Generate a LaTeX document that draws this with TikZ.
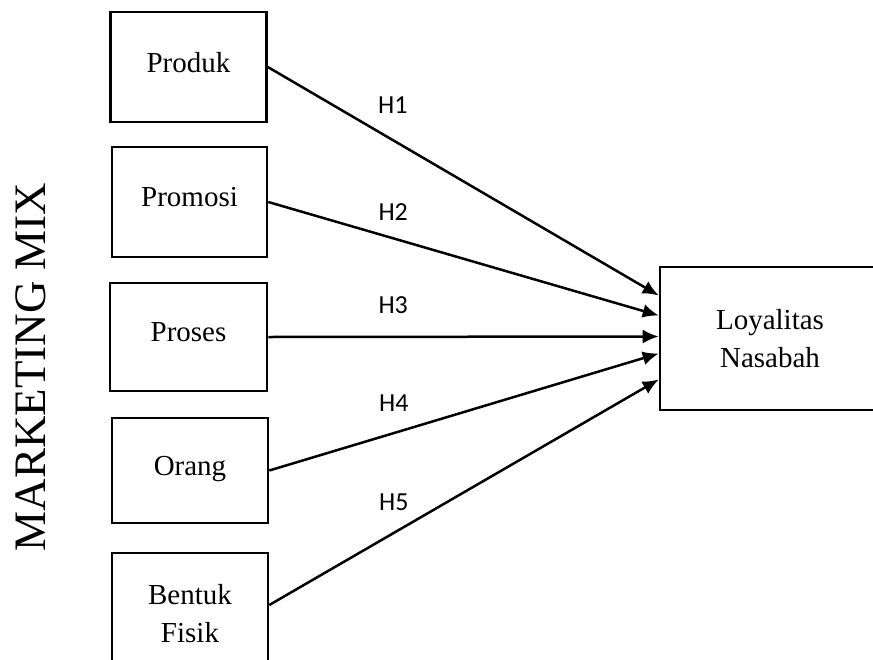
\documentclass[tikz,border=0pt]{standalone}
\usepackage{fontspec}
\setmainfont{Liberation Serif}
\newfontfamily\hypfont{Carlito}
\usetikzlibrary{arrows.meta,calc,positioning}
\tikzstyle{factor} = [rectangle, minimum width=156pt, minimum height=108pt, text centered, align=center, draw=black, line width=2.6pt, font=\fontsize{29}{38}\selectfont]
\tikzstyle{single} = [factor, text depth=10pt]
\tikzstyle{hyp} = [pos=0.32, yshift=30pt, font=\hypfont\fontsize{26}{30}\selectfont]
\tikzstyle{link} = [black, line width=2.5pt, -{Latex[length=16pt,width=14pt]}]

\begin{document}
\begin{tikzpicture}[x=1pt, y=-1pt]
            \useasboundingbox (0,0) rectangle (873,659);
            \clip (0,0) rectangle (873,659);

            % marketing mix factors
            \node[single, minimum height=110pt] (Produk) at (188.5,67) {Produk};
            \draw (Produk) ++(1,135) node[single, minimum width=155pt, minimum height=110pt] (Promosi) {Promosi};
            \draw (Promosi) ++(-1,135) node[single, minimum width=157pt] (Proses) {Proses};
            \draw (Proses) ++(1.5,133.5) node[single, minimum height=105pt] (Orang) {Orang};
            \draw (Orang) ++(0,143.5) node[factor, minimum height=122pt] (Bentuk) {Bentuk\\Fisik};

            \node[factor, minimum width=220pt, minimum height=143pt] (Loyal) at (770,338.5) {Loyalitas\\Nasabah};

            \node[rotate=90, font=\fontsize{45}{50}\selectfont] (MM) at (31,367) {MARKETING MIX};

            % hypotheses
            \draw[link] (Produk.east) -- node[hyp, yshift=5pt] (H1) {H1} ($(Loyal.west) + (0,-43)$);
            \draw[link] (Promosi.east) -- node[hyp, yshift=-4pt] (H2) {H2} ($(Loyal.west) + (0,-23)$);
            \draw[link] (Proses.east) -- node[hyp, yshift=2pt] (H3) {H3} ($(Loyal.west) + (0,-2)$);
            \draw[link] (Orang.east) -- node[hyp] (H4) {H4} ($(Loyal.west) + (0,15)$);
            \draw[link] ([yshift=9pt]Bentuk.east) -- node[hyp, yshift=1pt] (H5) {H5} ($(Loyal.west) + (0,41)$);

        \end{tikzpicture}
\end{document}
